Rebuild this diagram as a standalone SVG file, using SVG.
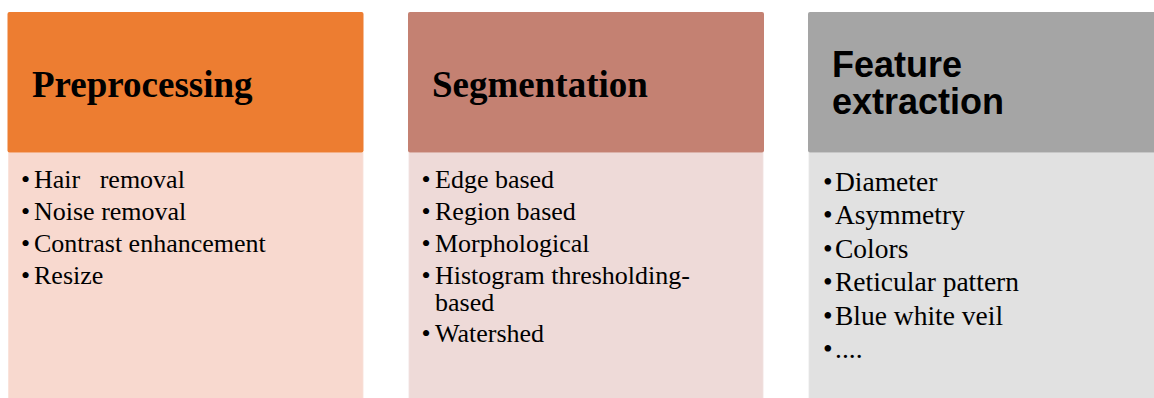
<svg xmlns="http://www.w3.org/2000/svg" width="1154" height="398" viewBox="0 0 1154 398">
  <style>
    .head { stroke: none; }
    .body { stroke: #ffffff; stroke-opacity: 0.35; stroke-width: 1.5; }
    .title-serif { font-family: "Liberation Serif", "Times New Roman", serif; font-weight: bold; font-size: 37px; fill: #000; }
    .title-sans { font-family: "Liberation Sans", Arial, sans-serif; font-weight: bold; font-size: 36px; fill: #000; }
    .item { font-family: "Liberation Serif", "Times New Roman", serif; font-size: 26px; fill: #000; white-space: pre; }
    .item3 { font-family: "Liberation Serif", "Times New Roman", serif; font-size: 27.5px; fill: #000; }
  </style>

  <rect x="0" y="0" width="1154" height="398" fill="#ffffff"/>

  <!-- Stage 1 -->
  <g id="preprocessing">
    <rect class="body" x="8" y="152" width="355.5" height="260" fill="#F8D9CF"/>
    <rect class="head" x="7.5" y="12" width="356" height="140.5" rx="2" fill="#ED7D31"/>
    <text class="title-serif" x="32" y="97">Preprocessing</text>
    <text class="item">
      <tspan x="21" y="188">•</tspan><tspan x="34" y="188" xml:space="preserve">Hair   removal</tspan>
      <tspan x="21" y="220">•</tspan><tspan x="34" y="220">Noise removal</tspan>
      <tspan x="21" y="252">•</tspan><tspan x="34" y="252">Contrast enhancement</tspan>
      <tspan x="21" y="284">•</tspan><tspan x="34" y="284">Resize</tspan>
    </text>
  </g>

  <!-- Stage 2 -->
  <g id="segmentation">
    <rect class="body" x="408.5" y="152" width="355" height="260" fill="#EEDAD8"/>
    <rect class="head" x="408" y="12" width="356" height="140.5" rx="2" fill="#C48172"/>
    <text class="title-serif" x="432" y="97">Segmentation</text>
    <text class="item">
      <tspan x="421.5" y="188">•</tspan><tspan x="435" y="188">Edge based</tspan>
      <tspan x="421.5" y="220">•</tspan><tspan x="435" y="220">Region based</tspan>
      <tspan x="421.5" y="252">•</tspan><tspan x="435" y="252">Morphological</tspan>
      <tspan x="421.5" y="284">•</tspan><tspan x="435" y="284">Histogram thresholding-</tspan>
    </text>
    <text class="item">
      <tspan x="435" y="311">based</tspan>
      <tspan x="421.5" y="342">•</tspan><tspan x="435" y="342">Watershed</tspan>
    </text>
  </g>

  <!-- Stage 3 -->
  <g id="feature-extraction">
    <rect class="body" x="808.5" y="152" width="355" height="260" fill="#E1E1E1"/>
    <rect class="head" x="808" y="12" width="356" height="140.5" rx="2" fill="#A5A5A5"/>
    <text class="title-sans">
      <tspan x="832" y="77">Feature</tspan>
      <tspan x="832" y="114">extraction</tspan>
    </text>
    <text class="item3">
      <tspan x="823" y="190.5">•</tspan><tspan x="835" y="190.5">Diameter</tspan>
      <tspan x="823" y="224">•</tspan><tspan x="835" y="224">Asymmetry</tspan>
      <tspan x="823" y="257.5">•</tspan><tspan x="835" y="257.5">Colors</tspan>
      <tspan x="823" y="291">•</tspan><tspan x="835" y="291">Reticular pattern</tspan>
      <tspan x="823" y="324.5">•</tspan><tspan x="835" y="324.5">Blue white veil</tspan>
      <tspan x="823" y="358">•</tspan><tspan x="835" y="358">....</tspan>
    </text>
  </g>

  <!-- no connectors between the stages -->
  <g id="connectors"></g>
</svg>
